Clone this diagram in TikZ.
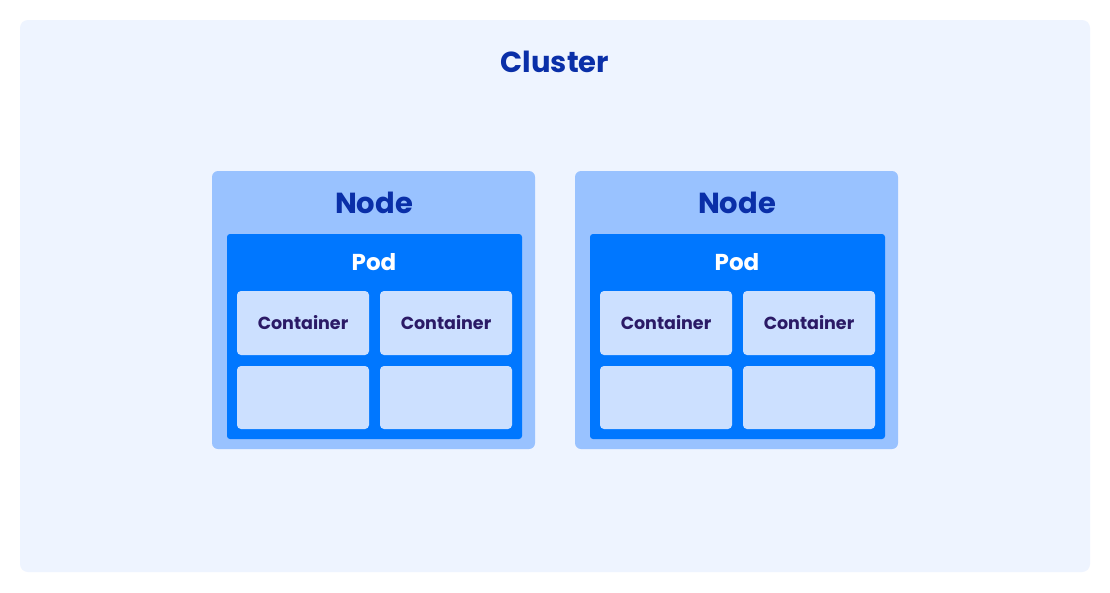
\documentclass[tikz,border=0pt]{standalone}
\usepackage{fontspec}
\setmainfont{Poppins}
\definecolor{clusterbg}{HTML}{EEF4FF}
\definecolor{nodebg}{HTML}{99C2FF}
\definecolor{podbg}{HTML}{0077FF}
\definecolor{contbg}{HTML}{CCE0FF}
\definecolor{titleblue}{HTML}{0A2FA8}
\definecolor{contText}{HTML}{2B1A66}
\tikzset{
  box/.style={rounded corners=#1, draw=none},
  clusterbox/.style={box=8pt, fill=clusterbg},
  nodebox/.style={box=6pt, fill=nodebg},
  podbox/.style={box=3pt, fill=podbg},
  contbox/.style={box=4pt, fill=contbg},
  bigtitle/.style={font=\bfseries\fontsize{29}{34}\selectfont, text=titleblue, inner sep=0pt},
  podtitle/.style={font=\bfseries\fontsize{23}{27}\selectfont, text=white, inner sep=0pt},
  conttext/.style={font=\bfseries\fontsize{17.5}{21}\selectfont, text=contText, inner sep=0pt},
}
\begin{document}
\begin{tikzpicture}[x=1pt,y=-1pt]
\useasboundingbox (0,0) rectangle (1110,592);
\fill[white] (0,0) rectangle (1110,592);
\draw[clusterbox] (20,20) rectangle (1090,572);
\node[bigtitle] (cluster) at (555,62) {Cluster};
\foreach \i/\dx in {1/0,2/363}{
  \begin{scope}[xshift=\dx]
  \draw[nodebox] (212,171) rectangle (535,449);
  \node[bigtitle] (node\i) at (374,203) {Node};
  \draw[podbox] (227,234) rectangle (522,439);
  \node[podtitle] (pod\i) at (374,262) {Pod};
  \draw[contbox] (237,291) rectangle (369,355);
  \draw[contbox] (380,291) rectangle (512,355);
  \draw[contbox] (237,366) rectangle (369,429);
  \draw[contbox] (380,366) rectangle (512,429);
  \node[conttext] (ca\i) at (303,323) {Container};
  \node[conttext] (cb\i) at (446,323) {Container};
  \end{scope}
}
\end{tikzpicture}
\end{document}
